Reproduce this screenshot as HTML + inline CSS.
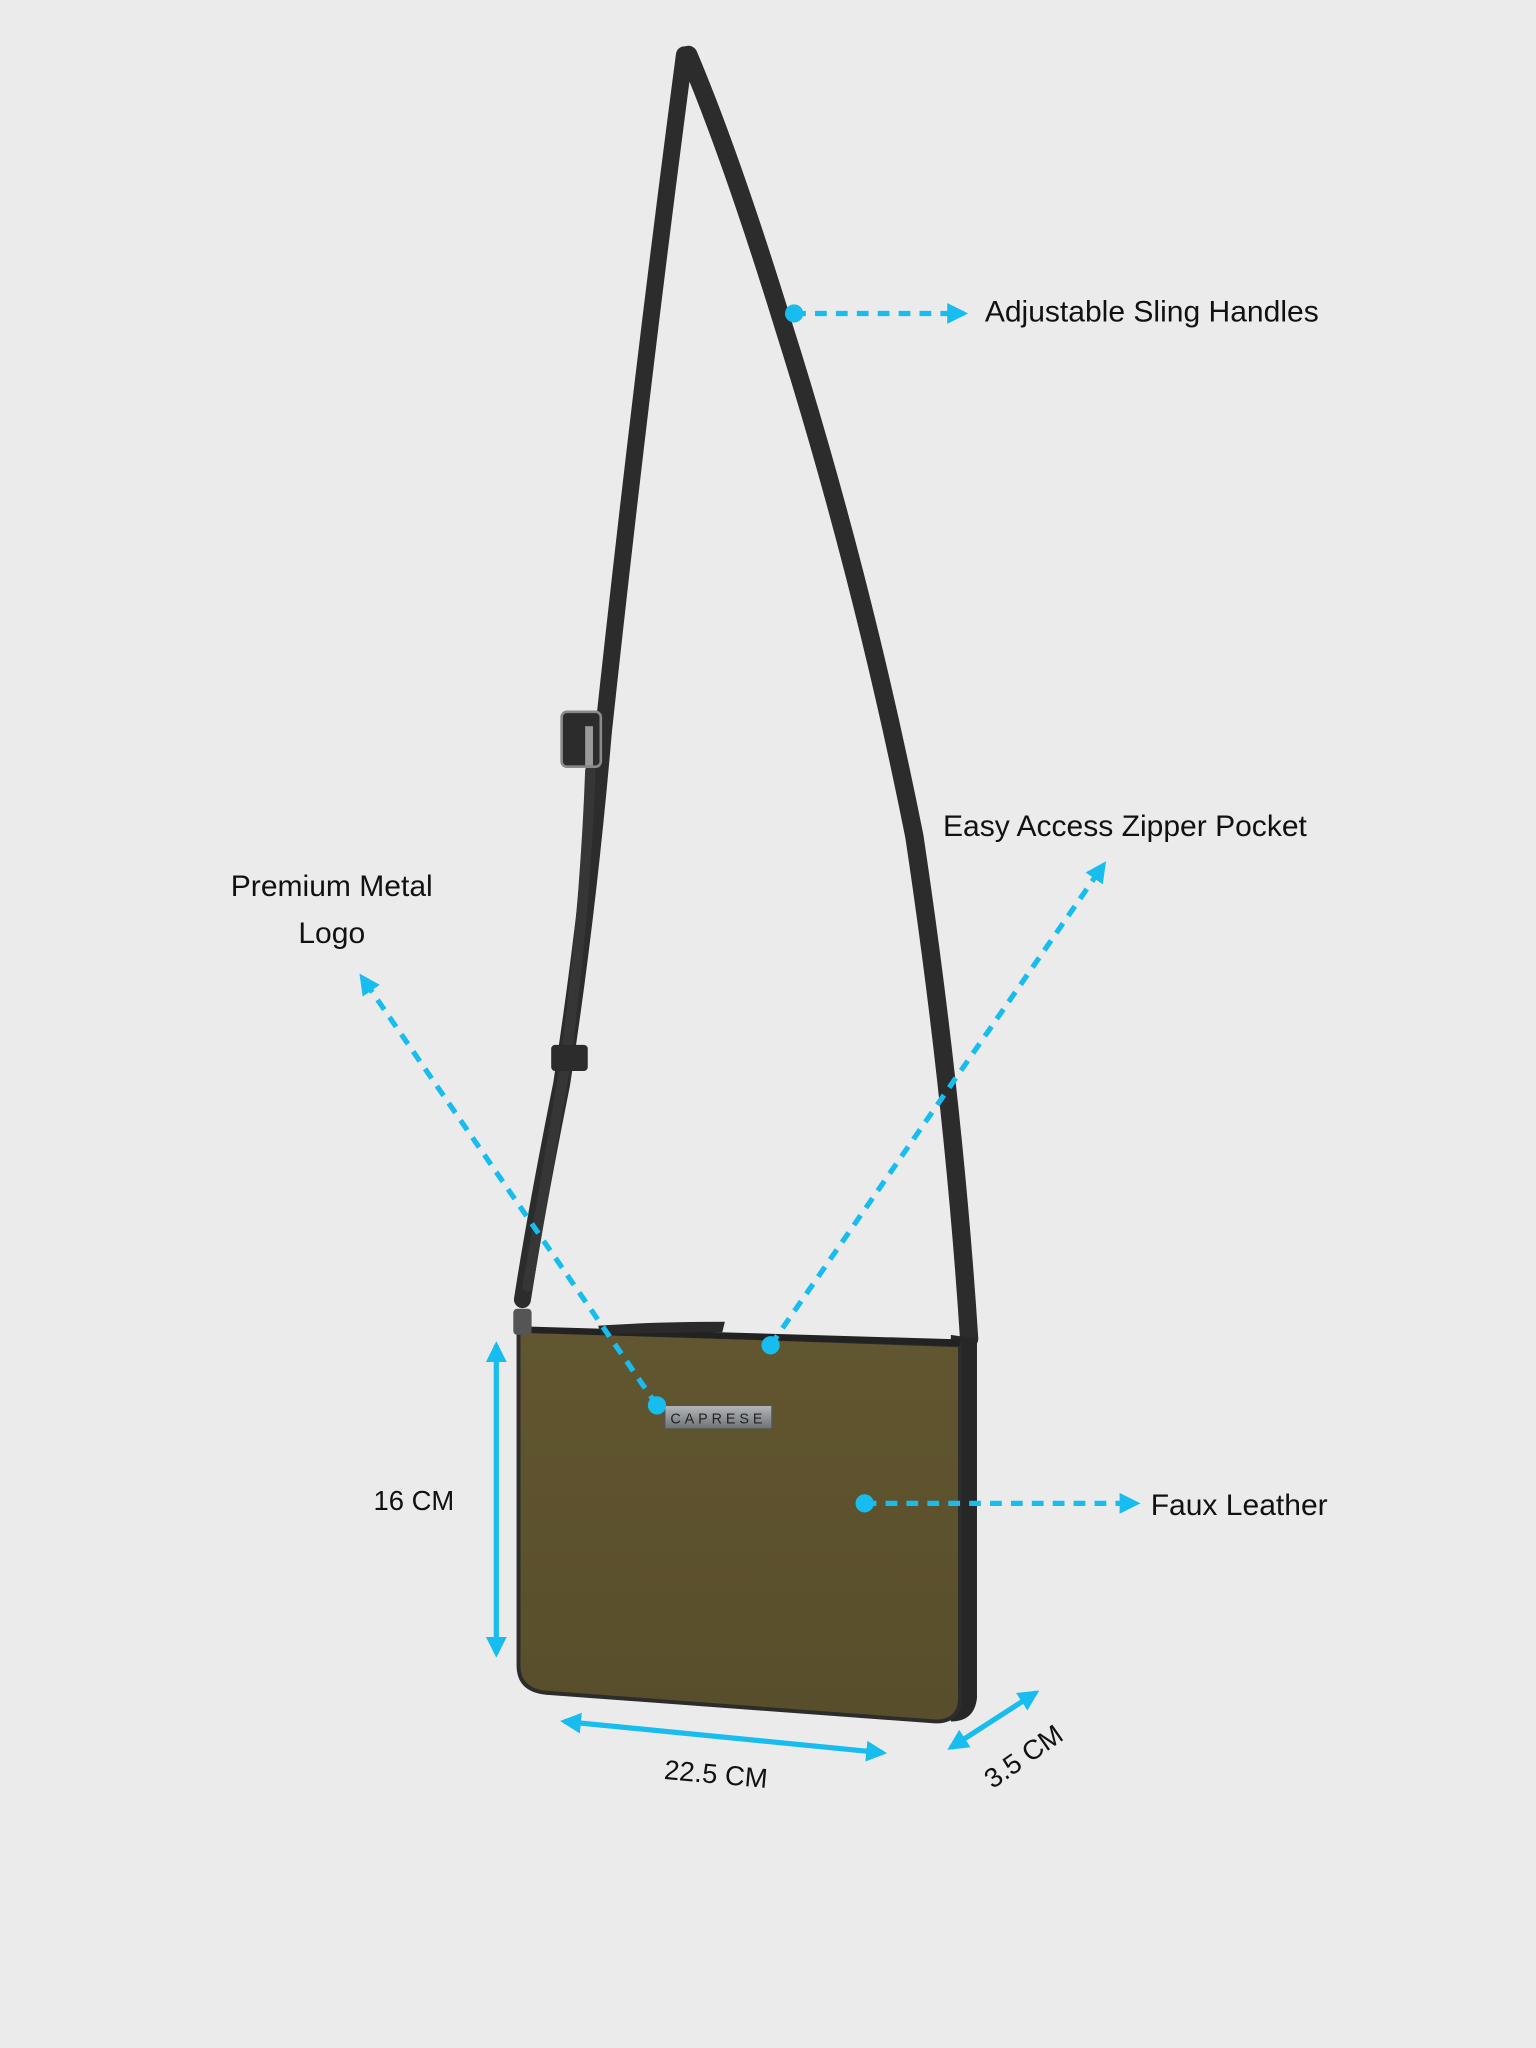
<!DOCTYPE html>
<html><head><meta charset="utf-8"><style>
html,body{margin:0;padding:0;background:#ebebeb;}
svg{display:block;}
text{font-family:"Liberation Sans",sans-serif;fill:#111;}
</style></head><body>
<svg width="1536" height="2048" viewBox="0 0 1176 1568" xmlns="http://www.w3.org/2000/svg">
<defs>
<marker id="ah" viewBox="0 0 10 10" refX="8" refY="5" markerWidth="4" markerHeight="4" orient="auto-start-reverse"><path d="M0,0 L10,5 L0,10 z" fill="#18bdf0"/></marker>
<linearGradient id="olive" x1="0" y1="0" x2="0" y2="1"><stop offset="0" stop-color="#61562f"/><stop offset="1" stop-color="#584e2b"/></linearGradient>
<linearGradient id="metal" x1="0" y1="0" x2="0" y2="1"><stop offset="0" stop-color="#b5b8bb"/><stop offset="1" stop-color="#6f7275"/></linearGradient>
</defs>
<rect width="1176" height="1568" fill="#ebebeb"/>
<!-- strap -->
<g fill="none" stroke="#2b2c2b" stroke-linecap="round">
<path d="M524,42 Q490,300 462,560 Q450,700 430,830 Q410,930 400,995" stroke-width="13"/>
<path d="M527,42 Q560,120 600,250 Q660,440 700,640 Q730,840 742,1025" stroke-width="14"/>
<path d="M452,590 Q448,700 432,820 Q415,920 404,985" stroke-width="8" stroke="#353635"/>
</g>
<rect x="430" y="545" width="30" height="42" rx="4" fill="#2b2c2b" stroke="#8a8a8a" stroke-width="2"/>
<rect x="448" y="556" width="6" height="30" fill="#9a9a9a"/>
<rect x="422" y="800" width="28" height="20" rx="3" fill="#2b2c2b"/>
<!-- bag side panel -->
<path d="M728,1022 L748,1025 L748,1300 Q746,1318 728,1318 Z" fill="#262726"/>
<!-- bag body -->
<path d="M397,1018 L735,1030 L735,1300 Q735,1318 716,1318 L418,1296 Q397,1294 397,1275 Z" fill="url(#olive)" stroke="#2b2c2b" stroke-width="3"/>
<path d="M400,1018 L735,1028" stroke="#222" stroke-width="5"/>
<path d="M458,1015 Q500,1012 555,1012 L553,1020 Q505,1020 460,1022 Z" fill="#2a2a2a"/>
<rect x="393" y="1002" width="14" height="20" rx="3" fill="#555"/>
<!-- logo plate -->
<rect x="509" y="1076" width="82" height="18" fill="url(#metal)" stroke="#555" stroke-width="1"/>
<text x="550" y="1090" font-size="11" text-anchor="middle" letter-spacing="3" style="fill:#222">CAPRESE</text>
<!-- callouts -->
<g stroke="#18bdf0" stroke-width="4" stroke-dasharray="9,7" fill="none" marker-end="url(#ah)">
<line x1="608" y1="240" x2="738" y2="240"/>
<line x1="590" y1="1030" x2="845" y2="662"/>
<line x1="503" y1="1076" x2="277" y2="748"/>
<line x1="662" y1="1151" x2="870" y2="1151"/>
</g>
<g fill="#18bdf0">
<circle cx="608" cy="240" r="7"/><circle cx="590" cy="1030" r="7"/><circle cx="503" cy="1076" r="7"/><circle cx="662" cy="1151" r="7"/>
</g>
<!-- dimension arrows -->
<g stroke="#18bdf0" stroke-width="4" fill="none" marker-start="url(#ah)" marker-end="url(#ah)">
<line x1="380" y1="1030" x2="380" y2="1266"/>
<line x1="432" y1="1318" x2="676" y2="1342"/>
<line x1="728" y1="1338" x2="793" y2="1296"/>
</g>
<text x="754" y="246" font-size="23">Adjustable Sling Handles</text>
<text x="722" y="640" font-size="23">Easy Access Zipper Pocket</text>
<text x="254" y="686" font-size="23" text-anchor="middle">Premium Metal</text>
<text x="254" y="722" font-size="23" text-anchor="middle">Logo</text>
<text x="881" y="1160" font-size="23">Faux Leather</text>
<text x="286" y="1156" font-size="21">16 CM</text>
<text x="508" y="1362" font-size="21" transform="rotate(5 508 1362)">22.5 CM</text>
<text x="760" y="1370" font-size="21" transform="rotate(-35 760 1370)">3.5 CM</text>
</svg>
</body></html>
